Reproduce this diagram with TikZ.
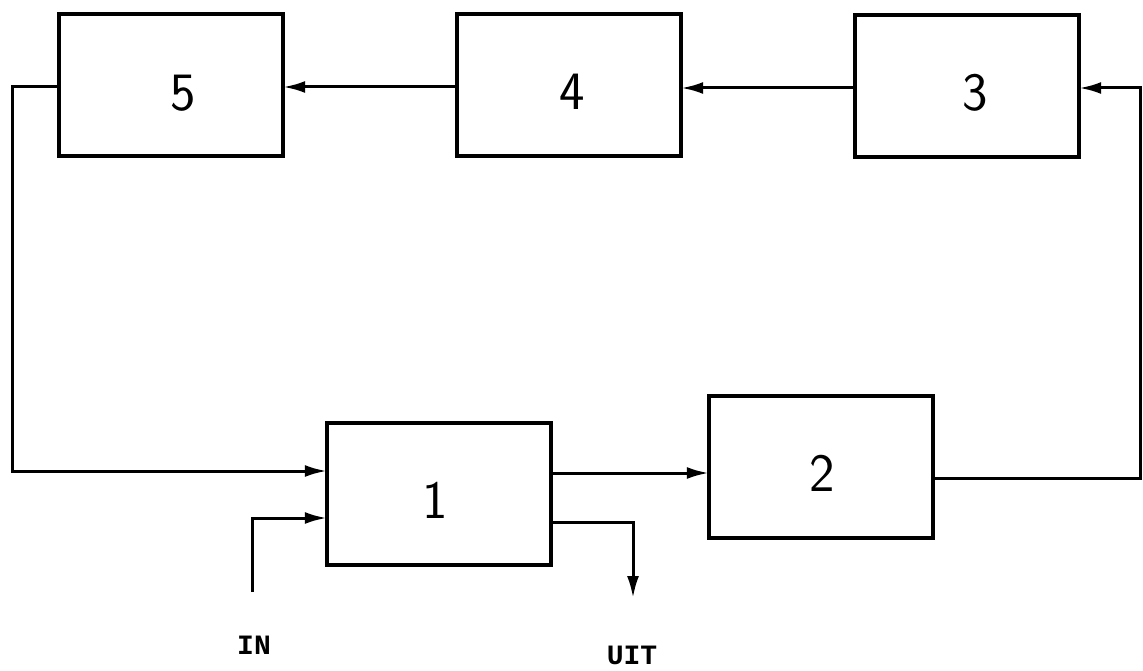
\documentclass[tikz,border=0pt]{standalone}
\usepackage{fontspec}
\setmonofont{Liberation Mono}
\usetikzlibrary{arrows.meta,calc}
\begin{document}
\begin{tikzpicture}[x=1pt,y=-1pt,
  blk/.style={draw, line width=3.4pt, minimum width=224pt, minimum height=142pt, inner sep=0pt},
  num/.style={font=\sffamily\fontsize{54}{54}\selectfont, inner sep=0pt},
  flow/.style={-{Latex[length=22pt,width=12pt]}, line width=3pt, shorten >=-1.5pt},
  tag/.style={font=\ttfamily\bfseries\fontsize{28}{28}\selectfont, inner sep=0pt}]
\useasboundingbox (0,0) rectangle (1143,671);

% blocks of the loop
\node[blk] (b5) at (171,85) {};
\node[blk] (b4) at (569,85) {};
\node[blk] (b3) at (967,86) {};
\node[blk] (b1) at (439,494) {};
\node[blk] (b2) at (821,467) {};

% block numbers
\node[num] (n5) at (183,93) {5};
\node[num] (n4) at (572,92) {4};
\node[num] (n3) at (975,93) {3};
\node[num] (n1) at (435,500) {1};
\node[num] (n2) at (822,473) {2};

% bends of the return paths and free ends
\coordinate (lft) at (12,471);
\coordinate (rgt) at (1140,478);
\coordinate (inb) at (252,592);
\coordinate (uitb) at (633,598);

% forward chain along the top
\draw[flow] (b4.west |- 0,87) -- (b5.east |- 0,87);
\draw[flow] (b3.west |- 0,88) -- (b4.east |- 0,88);

% from 5 back to 1
\draw[flow] (b5.west |- 0,87) -| (lft) -- (b1.west |- lft);

% from 1 to 2
\draw[flow] (b1.east |- 0,473) -- (b2.west |- 0,473);

% from 2 up to 3
\draw[flow] (b2.east |- rgt) -- (rgt) |- (b3.east |- 0,88);

% input and output of 1
\draw[flow] (inb) |- (b1.west |- 0,518);
\draw[flow, shorten >=0pt] (b1.east |- 0,522) -| (uitb);

\node[tag] (in) at (254,645) {IN};
\node[tag] (uit) at (632,655) {UIT};
\end{tikzpicture}
\end{document}
